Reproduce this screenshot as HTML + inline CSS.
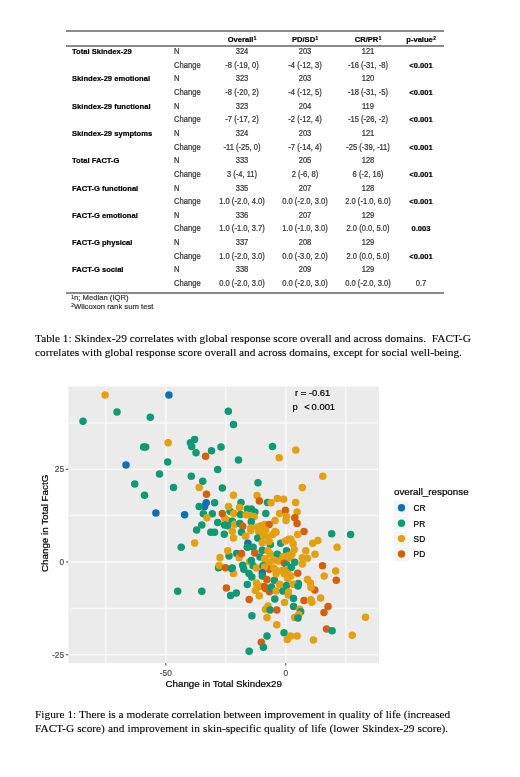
<!DOCTYPE html>
<html><head><meta charset="utf-8">
<style>
html,body{margin:0;padding:0;background:#fff;width:520px;height:777px;overflow:hidden;position:relative}
body{filter:blur(0.3px)}
.s{font-family:"Liberation Sans",sans-serif}
.t{font-family:"Liberation Serif",serif}
.a{position:absolute;white-space:pre;line-height:1}
#tb .r{position:absolute;left:0;width:520px;height:14px;font:7.6px/14px "Liberation Sans",sans-serif;color:#333;transform:translateY(1.0px);--sy:1.1}
#tb .r span{position:absolute;top:0;white-space:pre;-webkit-text-stroke:0.2px currentColor;transform-origin:0 9.6px;transform:scaleY(var(--sy))}
#tb .l{left:72px;font-weight:bold;color:#000;--sy:1.0;transform:translateY(-0.4px) !important}
#tb .n{left:174px}
#tb .c1{left:242px;transform:translateX(-50%) scaleY(var(--sy)) !important}
#tb .c2{left:305px;transform:translateX(-50%) scaleY(var(--sy)) !important}
#tb .c3{left:368px;transform:translateX(-50%) scaleY(var(--sy)) !important}
#tb .c4{left:421px;transform:translateX(-50%) scaleY(var(--sy)) !important}
#tb .b{font-weight:bold;color:#000;--sy:1.05}
sup{font-size:62%;vertical-align:top;position:relative;top:-0.6px;margin-left:0.3px}
.hl{position:absolute;left:66px;width:378px;height:2px;background:#8a8a8a}
.cap{position:absolute;left:35px;font:11.35px/13.5px "Liberation Serif",serif;color:#000;white-space:pre;-webkit-text-stroke:0.1px #000}
</style></head><body>
<div class="hl" style="top:30px"></div>
<div class="hl" style="top:45px"></div>
<div class="hl" style="top:292px"></div>
<div id="tb">
<div class="r" style="top:32.4px"><span class="c1 b">Overall<sup>1</sup></span><span class="c2 b">PD/SD<sup>1</sup></span><span class="c3 b">CR/PR<sup>1</sup></span><span class="c4 b">p-value<sup>2</sup></span></div>
<div class="r" style="top:44px"><span class="l">Total Skindex-29</span><span class="n">N</span><span class="c1">324</span><span class="c2">203</span><span class="c3">121</span></div>
<div class="r" style="top:57.65px"><span class="n">Change</span><span class="c1">-8 (-19, 0)</span><span class="c2">-4 (-12, 3)</span><span class="c3">-16 (-31, -8)</span><span class="c4 b">&lt;0.001</span></div>
<div class="r" style="top:71.3px"><span class="l">Skindex-29 emotional</span><span class="n">N</span><span class="c1">323</span><span class="c2">203</span><span class="c3">120</span></div>
<div class="r" style="top:84.95px"><span class="n">Change</span><span class="c1">-8 (-20, 2)</span><span class="c2">-4 (-12, 5)</span><span class="c3">-18 (-31, -5)</span><span class="c4 b">&lt;0.001</span></div>
<div class="r" style="top:98.6px"><span class="l">Skindex-29 functional</span><span class="n">N</span><span class="c1">323</span><span class="c2">204</span><span class="c3">119</span></div>
<div class="r" style="top:112.25px"><span class="n">Change</span><span class="c1">-7 (-17, 2)</span><span class="c2">-2 (-12, 4)</span><span class="c3">-15 (-26, -2)</span><span class="c4 b">&lt;0.001</span></div>
<div class="r" style="top:125.9px"><span class="l">Skindex-29 symptoms</span><span class="n">N</span><span class="c1">324</span><span class="c2">203</span><span class="c3">121</span></div>
<div class="r" style="top:139.55px"><span class="n">Change</span><span class="c1">-11 (-25, 0)</span><span class="c2">-7 (-14, 4)</span><span class="c3">-25 (-39, -11)</span><span class="c4 b">&lt;0.001</span></div>
<div class="r" style="top:153.2px"><span class="l">Total FACT-G</span><span class="n">N</span><span class="c1">333</span><span class="c2">205</span><span class="c3">128</span></div>
<div class="r" style="top:166.85px"><span class="n">Change</span><span class="c1">3 (-4, 11)</span><span class="c2">2 (-6, 8)</span><span class="c3">6 (-2, 16)</span><span class="c4 b">&lt;0.001</span></div>
<div class="r" style="top:180.5px"><span class="l">FACT-G functional</span><span class="n">N</span><span class="c1">335</span><span class="c2">207</span><span class="c3">128</span></div>
<div class="r" style="top:194.15px"><span class="n">Change</span><span class="c1">1.0 (-2.0, 4.0)</span><span class="c2">0.0 (-2.0, 3.0)</span><span class="c3">2.0 (-1.0, 6.0)</span><span class="c4 b">&lt;0.001</span></div>
<div class="r" style="top:207.8px"><span class="l">FACT-G emotional</span><span class="n">N</span><span class="c1">336</span><span class="c2">207</span><span class="c3">129</span></div>
<div class="r" style="top:221.45px"><span class="n">Change</span><span class="c1">1.0 (-1.0, 3.7)</span><span class="c2">1.0 (-1.0, 3.0)</span><span class="c3">2.0 (0.0, 5.0)</span><span class="c4 b">0.003</span></div>
<div class="r" style="top:235.1px"><span class="l">FACT-G physical</span><span class="n">N</span><span class="c1">337</span><span class="c2">208</span><span class="c3">129</span></div>
<div class="r" style="top:248.75px"><span class="n">Change</span><span class="c1">1.0 (-2.0, 3.0)</span><span class="c2">0.0 (-3.0, 2.0)</span><span class="c3">2.0 (0.0, 5.0)</span><span class="c4 b">&lt;0.001</span></div>
<div class="r" style="top:262.4px"><span class="l">FACT-G social</span><span class="n">N</span><span class="c1">338</span><span class="c2">209</span><span class="c3">129</span></div>
<div class="r" style="top:276.05px"><span class="n">Change</span><span class="c1">0.0 (-2.0, 3.0)</span><span class="c2">0.0 (-2.0, 3.0)</span><span class="c3">0.0 (-2.0, 3.0)</span><span class="c4">0.7</span></div>
<div class="r" style="top:291.2px;font-size:7.7px;transform:none;--sy:1.0"><span style="left:71px"><sup>1</sup>n; Median (IQR)</span></div>
<div class="r" style="top:300px;font-size:7.7px;transform:none;--sy:1.0"><span style="left:71px"><sup>2</sup>Wilcoxon rank sum test</span></div>
</div>
<div class="cap" style="top:332px">Table 1: Skindex-29 correlates with global response score overall and across domains.  FACT-G</div>
<div class="cap" style="top:345.5px;word-spacing:-0.12px">correlates with global response score overall and across domains, except for social well-being.</div>

<svg width="520" height="777" style="position:absolute;left:0;top:0">
<rect x="68.3" y="386.5" width="310.70" height="276.70" fill="#EBEBEB"/>
<line x1="105.80" y1="386.5" x2="105.80" y2="663.2" stroke="#F7F7F7" stroke-width="1.5"/>
<line x1="225.80" y1="386.5" x2="225.80" y2="663.2" stroke="#F7F7F7" stroke-width="1.5"/>
<line x1="345.80" y1="386.5" x2="345.80" y2="663.2" stroke="#F7F7F7" stroke-width="1.5"/>
<line x1="68.3" y1="608.38" x2="379.0" y2="608.38" stroke="#F7F7F7" stroke-width="1.5"/>
<line x1="68.3" y1="515.62" x2="379.0" y2="515.62" stroke="#F7F7F7" stroke-width="1.5"/>
<line x1="68.3" y1="422.88" x2="379.0" y2="422.88" stroke="#F7F7F7" stroke-width="1.5"/>
<line x1="165.80" y1="386.5" x2="165.80" y2="663.2" stroke="#F8F8F8" stroke-width="1.6"/>
<line x1="285.80" y1="386.5" x2="285.80" y2="663.2" stroke="#F8F8F8" stroke-width="1.6"/>
<line x1="68.3" y1="654.75" x2="379.0" y2="654.75" stroke="#F8F8F8" stroke-width="1.6"/>
<line x1="68.3" y1="562.00" x2="379.0" y2="562.00" stroke="#F8F8F8" stroke-width="1.6"/>
<line x1="68.3" y1="469.25" x2="379.0" y2="469.25" stroke="#F8F8F8" stroke-width="1.6"/>
<line x1="165.80" y1="663.2" x2="165.80" y2="665.6" stroke="#333" stroke-width="0.9"/>
<line x1="285.80" y1="663.2" x2="285.80" y2="665.6" stroke="#333" stroke-width="0.9"/>
<line x1="65.89999999999999" y1="654.75" x2="68.3" y2="654.75" stroke="#333" stroke-width="0.9"/>
<line x1="65.89999999999999" y1="562.00" x2="68.3" y2="562.00" stroke="#333" stroke-width="0.9"/>
<line x1="65.89999999999999" y1="469.25" x2="68.3" y2="469.25" stroke="#333" stroke-width="0.9"/>
<circle cx="105.1" cy="395.0" r="3.75" fill="#E3A010"/>
<circle cx="168.9" cy="395.0" r="3.75" fill="#0F6FAF"/>
<circle cx="117.0" cy="411.9" r="3.75" fill="#0E9A72"/>
<circle cx="150.3" cy="417.3" r="3.75" fill="#0E9A72"/>
<circle cx="83.0" cy="421.2" r="3.75" fill="#0E9A72"/>
<circle cx="143.6" cy="447.0" r="3.75" fill="#0E9A72"/>
<circle cx="145.7" cy="447.0" r="3.75" fill="#0E9A72"/>
<circle cx="126.0" cy="465.0" r="3.75" fill="#0F6FAF"/>
<circle cx="228.3" cy="411.3" r="3.75" fill="#0E9A72"/>
<circle cx="233.5" cy="424.4" r="3.75" fill="#0E9A72"/>
<circle cx="168.1" cy="442.7" r="3.75" fill="#E3A010"/>
<circle cx="194.6" cy="439.4" r="3.75" fill="#0E9A72"/>
<circle cx="190.4" cy="442.7" r="3.75" fill="#0E9A72"/>
<circle cx="191.7" cy="446.5" r="3.75" fill="#0E9A72"/>
<circle cx="196.0" cy="452.7" r="3.75" fill="#0E9A72"/>
<circle cx="211.5" cy="450.8" r="3.75" fill="#0E9A72"/>
<circle cx="221.0" cy="446.9" r="3.75" fill="#0E9A72"/>
<circle cx="205.6" cy="456.2" r="3.75" fill="#D3600E"/>
<circle cx="238.5" cy="460.0" r="3.75" fill="#0E9A72"/>
<circle cx="167.7" cy="461.9" r="3.75" fill="#0E9A72"/>
<circle cx="217.7" cy="469.6" r="3.75" fill="#0E9A72"/>
<circle cx="159.5" cy="474.0" r="3.75" fill="#0E9A72"/>
<circle cx="191.3" cy="476.3" r="3.75" fill="#0E9A72"/>
<circle cx="202.7" cy="481.2" r="3.75" fill="#0E9A72"/>
<circle cx="258.0" cy="482.7" r="3.75" fill="#0E9A72"/>
<circle cx="272.5" cy="446.5" r="3.75" fill="#0E9A72"/>
<circle cx="279.2" cy="457.7" r="3.75" fill="#E3A010"/>
<circle cx="295.8" cy="450.0" r="3.75" fill="#E3A010"/>
<circle cx="322.8" cy="476.3" r="3.75" fill="#E3A010"/>
<circle cx="302.3" cy="487.4" r="3.75" fill="#E3A010"/>
<circle cx="134.7" cy="484.0" r="3.75" fill="#0E9A72"/>
<circle cx="144.5" cy="495.2" r="3.75" fill="#0E9A72"/>
<circle cx="155.9" cy="513.1" r="3.75" fill="#0F6FAF"/>
<circle cx="173.5" cy="487.6" r="3.75" fill="#0E9A72"/>
<circle cx="199.2" cy="487.6" r="3.75" fill="#E3A010"/>
<circle cx="222.3" cy="488.0" r="3.75" fill="#0E9A72"/>
<circle cx="206.5" cy="494.2" r="3.75" fill="#D3600E"/>
<circle cx="233.5" cy="495.3" r="3.75" fill="#E3A010"/>
<circle cx="214.6" cy="502.7" r="3.75" fill="#0E9A72"/>
<circle cx="206.2" cy="502.7" r="3.75" fill="#0F6FAF"/>
<circle cx="204.6" cy="506.5" r="3.75" fill="#0F6FAF"/>
<circle cx="199.2" cy="506.5" r="3.75" fill="#0E9A72"/>
<circle cx="230.0" cy="511.2" r="3.75" fill="#0E9A72"/>
<circle cx="228.5" cy="506.5" r="3.75" fill="#E3A010"/>
<circle cx="184.6" cy="514.7" r="3.75" fill="#0F6FAF"/>
<circle cx="203.4" cy="513.8" r="3.75" fill="#0E9A72"/>
<circle cx="212.3" cy="513.8" r="3.75" fill="#0E9A72"/>
<circle cx="207.0" cy="517.8" r="3.75" fill="#E3A010"/>
<circle cx="233.8" cy="513.5" r="3.75" fill="#E3A010"/>
<circle cx="224.6" cy="518.0" r="3.75" fill="#E3A010"/>
<circle cx="222.3" cy="513.5" r="3.75" fill="#D3600E"/>
<circle cx="227.7" cy="520.4" r="3.75" fill="#E3A010"/>
<circle cx="217.7" cy="522.4" r="3.75" fill="#0E9A72"/>
<circle cx="232.3" cy="521.2" r="3.75" fill="#0E9A72"/>
<circle cx="224.6" cy="525.0" r="3.75" fill="#0E9A72"/>
<circle cx="227.7" cy="525.8" r="3.75" fill="#0E9A72"/>
<circle cx="234.6" cy="524.2" r="3.75" fill="#E3A010"/>
<circle cx="201.8" cy="525.0" r="3.75" fill="#0E9A72"/>
<circle cx="196.6" cy="530.0" r="3.75" fill="#0E9A72"/>
<circle cx="210.8" cy="532.2" r="3.75" fill="#0E9A72"/>
<circle cx="214.6" cy="532.2" r="3.75" fill="#0E9A72"/>
<circle cx="232.3" cy="531.2" r="3.75" fill="#E3A010"/>
<circle cx="224.3" cy="534.2" r="3.75" fill="#0E9A72"/>
<circle cx="233.5" cy="538.0" r="3.75" fill="#E3A010"/>
<circle cx="194.6" cy="543.0" r="3.75" fill="#E3A010"/>
<circle cx="181.2" cy="547.3" r="3.75" fill="#0E9A72"/>
<circle cx="229.0" cy="556.0" r="3.75" fill="#0E9A72"/>
<circle cx="227.7" cy="550.7" r="3.75" fill="#E3A010"/>
<circle cx="257.1" cy="495.5" r="3.75" fill="#E3A010"/>
<circle cx="259.4" cy="501.0" r="3.75" fill="#D3600E"/>
<circle cx="267.5" cy="502.5" r="3.75" fill="#0E9A72"/>
<circle cx="271.0" cy="502.7" r="3.75" fill="#E3A010"/>
<circle cx="277.3" cy="498.6" r="3.75" fill="#E3A010"/>
<circle cx="283.6" cy="499.2" r="3.75" fill="#E3A010"/>
<circle cx="241.0" cy="502.5" r="3.75" fill="#0E9A72"/>
<circle cx="239.5" cy="507.6" r="3.75" fill="#E3A010"/>
<circle cx="240.5" cy="514.4" r="3.75" fill="#0E9A72"/>
<circle cx="247.3" cy="509.0" r="3.75" fill="#0E9A72"/>
<circle cx="251.3" cy="509.0" r="3.75" fill="#0E9A72"/>
<circle cx="254.8" cy="511.9" r="3.75" fill="#0E9A72"/>
<circle cx="246.1" cy="514.8" r="3.75" fill="#E3A010"/>
<circle cx="250.8" cy="516.0" r="3.75" fill="#E3A010"/>
<circle cx="254.2" cy="516.5" r="3.75" fill="#E3A010"/>
<circle cx="265.8" cy="513.6" r="3.75" fill="#0E9A72"/>
<circle cx="279.6" cy="513.6" r="3.75" fill="#E3A010"/>
<circle cx="285.4" cy="510.2" r="3.75" fill="#D3600E"/>
<circle cx="286.5" cy="516.5" r="3.75" fill="#E3A010"/>
<circle cx="275.0" cy="520.6" r="3.75" fill="#E3A010"/>
<circle cx="286.0" cy="520.6" r="3.75" fill="#E3A010"/>
<circle cx="239.8" cy="523.4" r="3.75" fill="#0E9A72"/>
<circle cx="242.7" cy="526.3" r="3.75" fill="#D3600E"/>
<circle cx="251.3" cy="521.7" r="3.75" fill="#0E9A72"/>
<circle cx="250.8" cy="528.0" r="3.75" fill="#E3A010"/>
<circle cx="257.7" cy="526.9" r="3.75" fill="#E3A010"/>
<circle cx="261.1" cy="525.7" r="3.75" fill="#E3A010"/>
<circle cx="264.6" cy="524.6" r="3.75" fill="#E3A010"/>
<circle cx="269.2" cy="524.6" r="3.75" fill="#D3600E"/>
<circle cx="241.5" cy="532.3" r="3.75" fill="#0E9A72"/>
<circle cx="275.0" cy="531.5" r="3.75" fill="#E3A010"/>
<circle cx="260.0" cy="532.7" r="3.75" fill="#E3A010"/>
<circle cx="265.5" cy="530.0" r="3.75" fill="#E3A010"/>
<circle cx="262.0" cy="529.0" r="3.75" fill="#E3A010"/>
<circle cx="295.6" cy="502.5" r="3.75" fill="#E3A010"/>
<circle cx="297.1" cy="511.9" r="3.75" fill="#E3A010"/>
<circle cx="294.8" cy="517.7" r="3.75" fill="#D3600E"/>
<circle cx="297.1" cy="523.4" r="3.75" fill="#D3600E"/>
<circle cx="304.0" cy="531.5" r="3.75" fill="#D3600E"/>
<circle cx="297.7" cy="534.4" r="3.75" fill="#E3A010"/>
<circle cx="331.7" cy="533.8" r="3.75" fill="#0E9A72"/>
<circle cx="350.6" cy="534.6" r="3.75" fill="#0E9A72"/>
<circle cx="337.1" cy="547.3" r="3.75" fill="#E3A010"/>
<circle cx="317.9" cy="540.4" r="3.75" fill="#E3A010"/>
<circle cx="245.6" cy="536.3" r="3.75" fill="#E3A010"/>
<circle cx="250.8" cy="530.6" r="3.75" fill="#E3A010"/>
<circle cx="258.8" cy="531.7" r="3.75" fill="#E3A010"/>
<circle cx="257.7" cy="538.0" r="3.75" fill="#0E9A72"/>
<circle cx="263.4" cy="535.8" r="3.75" fill="#E3A010"/>
<circle cx="268.0" cy="536.9" r="3.75" fill="#E3A010"/>
<circle cx="272.7" cy="534.6" r="3.75" fill="#E3A010"/>
<circle cx="276.1" cy="532.3" r="3.75" fill="#E3A010"/>
<circle cx="262.3" cy="542.7" r="3.75" fill="#E3A010"/>
<circle cx="270.4" cy="544.4" r="3.75" fill="#0E9A72"/>
<circle cx="269.2" cy="541.5" r="3.75" fill="#E3A010"/>
<circle cx="280.7" cy="543.3" r="3.75" fill="#0E9A72"/>
<circle cx="247.9" cy="543.3" r="3.75" fill="#0F6FAF"/>
<circle cx="247.3" cy="547.3" r="3.75" fill="#0E9A72"/>
<circle cx="253.1" cy="547.3" r="3.75" fill="#0E9A72"/>
<circle cx="285.4" cy="541.0" r="3.75" fill="#E3A010"/>
<circle cx="288.8" cy="539.2" r="3.75" fill="#E3A010"/>
<circle cx="286.5" cy="550.8" r="3.75" fill="#0E9A72"/>
<circle cx="254.8" cy="553.1" r="3.75" fill="#D3600E"/>
<circle cx="262.3" cy="550.2" r="3.75" fill="#0E9A72"/>
<circle cx="268.0" cy="550.8" r="3.75" fill="#E3A010"/>
<circle cx="270.4" cy="554.2" r="3.75" fill="#E3A010"/>
<circle cx="277.3" cy="554.2" r="3.75" fill="#0E9A72"/>
<circle cx="283.1" cy="556.5" r="3.75" fill="#E3A010"/>
<circle cx="288.8" cy="555.4" r="3.75" fill="#E3A010"/>
<circle cx="236.6" cy="553.5" r="3.75" fill="#0E9A72"/>
<circle cx="239.2" cy="557.7" r="3.75" fill="#E3A010"/>
<circle cx="241.5" cy="553.6" r="3.75" fill="#D3600E"/>
<circle cx="260.0" cy="557.1" r="3.75" fill="#0E9A72"/>
<circle cx="264.6" cy="558.8" r="3.75" fill="#E3A010"/>
<circle cx="265.8" cy="563.4" r="3.75" fill="#E3A010"/>
<circle cx="269.2" cy="562.3" r="3.75" fill="#E3A010"/>
<circle cx="273.8" cy="560.0" r="3.75" fill="#E3A010"/>
<circle cx="278.4" cy="561.1" r="3.75" fill="#E3A010"/>
<circle cx="249.6" cy="561.7" r="3.75" fill="#E3A010"/>
<circle cx="251.3" cy="560.6" r="3.75" fill="#0E9A72"/>
<circle cx="232.3" cy="568.1" r="3.75" fill="#0E9A72"/>
<circle cx="242.7" cy="565.2" r="3.75" fill="#0E9A72"/>
<circle cx="243.8" cy="569.2" r="3.75" fill="#0E9A72"/>
<circle cx="253.1" cy="565.8" r="3.75" fill="#0E9A72"/>
<circle cx="256.5" cy="568.1" r="3.75" fill="#E3A010"/>
<circle cx="262.9" cy="565.8" r="3.75" fill="#0E9A72"/>
<circle cx="269.2" cy="569.2" r="3.75" fill="#D3600E"/>
<circle cx="264.6" cy="566.9" r="3.75" fill="#E3A010"/>
<circle cx="273.8" cy="568.1" r="3.75" fill="#E3A010"/>
<circle cx="276.1" cy="570.4" r="3.75" fill="#E3A010"/>
<circle cx="284.2" cy="562.9" r="3.75" fill="#D3600E"/>
<circle cx="286.5" cy="564.6" r="3.75" fill="#0E9A72"/>
<circle cx="281.9" cy="570.4" r="3.75" fill="#E3A010"/>
<circle cx="287.7" cy="569.2" r="3.75" fill="#E3A010"/>
<circle cx="233.5" cy="573.5" r="3.75" fill="#E3A010"/>
<circle cx="249.0" cy="573.6" r="3.75" fill="#0E9A72"/>
<circle cx="251.8" cy="577.0" r="3.75" fill="#0E9A72"/>
<circle cx="262.3" cy="572.7" r="3.75" fill="#0F6FAF"/>
<circle cx="262.3" cy="576.1" r="3.75" fill="#0E9A72"/>
<circle cx="266.9" cy="579.6" r="3.75" fill="#D3600E"/>
<circle cx="274.4" cy="580.2" r="3.75" fill="#0E9A72"/>
<circle cx="276.1" cy="573.8" r="3.75" fill="#E3A010"/>
<circle cx="284.2" cy="573.8" r="3.75" fill="#E3A010"/>
<circle cx="287.7" cy="578.4" r="3.75" fill="#E3A010"/>
<circle cx="247.3" cy="584.5" r="3.75" fill="#0E9A72"/>
<circle cx="256.5" cy="583.1" r="3.75" fill="#E3A010"/>
<circle cx="260.0" cy="586.5" r="3.75" fill="#E3A010"/>
<circle cx="264.6" cy="586.5" r="3.75" fill="#D3600E"/>
<circle cx="271.5" cy="587.1" r="3.75" fill="#0E9A72"/>
<circle cx="279.6" cy="584.2" r="3.75" fill="#E3A010"/>
<circle cx="286.5" cy="585.6" r="3.75" fill="#0E9A72"/>
<circle cx="290.8" cy="539.2" r="3.75" fill="#E3A010"/>
<circle cx="293.1" cy="543.8" r="3.75" fill="#E3A010"/>
<circle cx="312.7" cy="543.3" r="3.75" fill="#E3A010"/>
<circle cx="294.2" cy="549.6" r="3.75" fill="#E3A010"/>
<circle cx="305.8" cy="550.8" r="3.75" fill="#E3A010"/>
<circle cx="315.0" cy="554.2" r="3.75" fill="#E3A010"/>
<circle cx="291.9" cy="554.2" r="3.75" fill="#E3A010"/>
<circle cx="289.6" cy="557.7" r="3.75" fill="#E3A010"/>
<circle cx="302.3" cy="557.7" r="3.75" fill="#E3A010"/>
<circle cx="307.5" cy="558.3" r="3.75" fill="#E3A010"/>
<circle cx="294.8" cy="562.3" r="3.75" fill="#0E9A72"/>
<circle cx="302.3" cy="564.0" r="3.75" fill="#E3A010"/>
<circle cx="291.3" cy="567.5" r="3.75" fill="#0E9A72"/>
<circle cx="322.5" cy="565.8" r="3.75" fill="#D3600E"/>
<circle cx="335.7" cy="570.9" r="3.75" fill="#E3A010"/>
<circle cx="297.7" cy="573.3" r="3.75" fill="#D3600E"/>
<circle cx="286.7" cy="572.7" r="3.75" fill="#E3A010"/>
<circle cx="290.8" cy="576.1" r="3.75" fill="#E3A010"/>
<circle cx="324.2" cy="576.1" r="3.75" fill="#E3A010"/>
<circle cx="336.3" cy="580.2" r="3.75" fill="#D3600E"/>
<circle cx="307.5" cy="579.6" r="3.75" fill="#E3A010"/>
<circle cx="310.4" cy="583.1" r="3.75" fill="#E3A010"/>
<circle cx="298.3" cy="583.6" r="3.75" fill="#0E9A72"/>
<circle cx="293.1" cy="584.2" r="3.75" fill="#E3A010"/>
<circle cx="314.8" cy="590.0" r="3.75" fill="#D3600E"/>
<circle cx="320.6" cy="598.0" r="3.75" fill="#E3A010"/>
<circle cx="328.1" cy="606.4" r="3.75" fill="#D3600E"/>
<circle cx="324.0" cy="612.5" r="3.75" fill="#D3600E"/>
<circle cx="365.5" cy="617.3" r="3.75" fill="#E3A010"/>
<circle cx="220.0" cy="557.5" r="3.75" fill="#E3A010"/>
<circle cx="218.5" cy="567.7" r="3.75" fill="#0E9A72"/>
<circle cx="219.2" cy="565.4" r="3.75" fill="#E3A010"/>
<circle cx="225.4" cy="567.7" r="3.75" fill="#D3600E"/>
<circle cx="231.5" cy="568.5" r="3.75" fill="#0E9A72"/>
<circle cx="177.7" cy="591.2" r="3.75" fill="#0E9A72"/>
<circle cx="201.8" cy="591.2" r="3.75" fill="#0E9A72"/>
<circle cx="226.4" cy="588.0" r="3.75" fill="#D3600E"/>
<circle cx="230.6" cy="595.6" r="3.75" fill="#0E9A72"/>
<circle cx="236.3" cy="593.1" r="3.75" fill="#0E9A72"/>
<circle cx="257.3" cy="587.0" r="3.75" fill="#E3A010"/>
<circle cx="255.3" cy="590.4" r="3.75" fill="#E3A010"/>
<circle cx="259.3" cy="595.8" r="3.75" fill="#E3A010"/>
<circle cx="265.4" cy="588.4" r="3.75" fill="#D3600E"/>
<circle cx="269.4" cy="591.7" r="3.75" fill="#D3600E"/>
<circle cx="271.4" cy="588.4" r="3.75" fill="#0E9A72"/>
<circle cx="276.1" cy="591.1" r="3.75" fill="#E3A010"/>
<circle cx="282.9" cy="591.1" r="3.75" fill="#0E9A72"/>
<circle cx="288.3" cy="595.1" r="3.75" fill="#E3A010"/>
<circle cx="293.5" cy="598.5" r="3.75" fill="#0E9A72"/>
<circle cx="249.2" cy="599.5" r="3.75" fill="#D3600E"/>
<circle cx="274.8" cy="599.1" r="3.75" fill="#0E9A72"/>
<circle cx="284.5" cy="602.4" r="3.75" fill="#E3A010"/>
<circle cx="293.6" cy="606.5" r="3.75" fill="#0E9A72"/>
<circle cx="268.1" cy="605.9" r="3.75" fill="#E3A010"/>
<circle cx="265.4" cy="609.2" r="3.75" fill="#E3A010"/>
<circle cx="270.1" cy="609.9" r="3.75" fill="#0E9A72"/>
<circle cx="276.8" cy="609.9" r="3.75" fill="#D3600E"/>
<circle cx="251.9" cy="615.7" r="3.75" fill="#0E9A72"/>
<circle cx="267.0" cy="617.6" r="3.75" fill="#E3A010"/>
<circle cx="294.5" cy="617.5" r="3.75" fill="#E3A010"/>
<circle cx="276.8" cy="624.7" r="3.75" fill="#E3A010"/>
<circle cx="284.0" cy="632.7" r="3.75" fill="#0E9A72"/>
<circle cx="287.3" cy="639.5" r="3.75" fill="#E3A010"/>
<circle cx="290.5" cy="636.1" r="3.75" fill="#E3A010"/>
<circle cx="267.0" cy="636.1" r="3.75" fill="#0E9A72"/>
<circle cx="261.3" cy="642.2" r="3.75" fill="#D3600E"/>
<circle cx="263.4" cy="647.2" r="3.75" fill="#0E9A72"/>
<circle cx="249.2" cy="651.2" r="3.75" fill="#0E9A72"/>
<circle cx="298.0" cy="585.9" r="3.75" fill="#0E9A72"/>
<circle cx="288.5" cy="591.9" r="3.75" fill="#E3A010"/>
<circle cx="311.0" cy="587.6" r="3.75" fill="#E3A010"/>
<circle cx="304.0" cy="600.6" r="3.75" fill="#D3600E"/>
<circle cx="311.0" cy="599.7" r="3.75" fill="#E3A010"/>
<circle cx="311.8" cy="602.3" r="3.75" fill="#E3A010"/>
<circle cx="299.7" cy="609.2" r="3.75" fill="#E3A010"/>
<circle cx="300.6" cy="611.8" r="3.75" fill="#0E9A72"/>
<circle cx="298.8" cy="614.4" r="3.75" fill="#E3A010"/>
<circle cx="298.0" cy="617.9" r="3.75" fill="#0E9A72"/>
<circle cx="326.5" cy="629.1" r="3.75" fill="#D3600E"/>
<circle cx="332.1" cy="630.8" r="3.75" fill="#0E9A72"/>
<circle cx="297.1" cy="636.0" r="3.75" fill="#E3A010"/>
<circle cx="313.5" cy="640.0" r="3.75" fill="#E3A010"/>
<circle cx="352.2" cy="635.2" r="3.75" fill="#E3A010"/>
<text x="165.80" y="675.6" font-family="Liberation Sans" font-size="8.3" fill="#4D4D4D" stroke="#4D4D4D" stroke-width="0.2" text-anchor="middle">-50</text>
<text x="285.80" y="675.6" font-family="Liberation Sans" font-size="8.3" fill="#4D4D4D" stroke="#4D4D4D" stroke-width="0.2" text-anchor="middle">0</text>
<text x="64.0" y="657.55" font-family="Liberation Sans" font-size="8.3" fill="#4D4D4D" stroke="#4D4D4D" stroke-width="0.2" text-anchor="end">-25</text>
<text x="64.0" y="564.80" font-family="Liberation Sans" font-size="8.3" fill="#4D4D4D" stroke="#4D4D4D" stroke-width="0.2" text-anchor="end">0</text>
<text x="64.0" y="472.05" font-family="Liberation Sans" font-size="8.3" fill="#4D4D4D" stroke="#4D4D4D" stroke-width="0.2" text-anchor="end">25</text>
<text x="223.65" y="686.6" font-family="Liberation Sans" font-size="9.8" fill="#000" stroke="#000" stroke-width="0.22" text-anchor="middle">Change in Total Skindex29</text>
<text transform="translate(47.8,523.35) rotate(-90)" x="0" y="0" font-family="Liberation Sans" font-size="9.8" fill="#000" stroke="#000" stroke-width="0.22" text-anchor="middle">Change in Total FactG</text>
<text x="295.1" y="395.7" font-family="Liberation Sans" font-size="9.4" fill="#000" stroke="#000" stroke-width="0.22">r = -0.61</text>
<text x="292.6" y="409.8" font-family="Liberation Sans" font-size="9.4" fill="#000" stroke="#000" stroke-width="0.22">p</text>
<text x="304.3" y="409.8" font-family="Liberation Sans" font-size="9.4" fill="#000" stroke="#000" stroke-width="0.22">&lt;</text>
<text x="311.6" y="409.8" font-family="Liberation Sans" font-size="9.4" fill="#000" stroke="#000" stroke-width="0.22">0.001</text>
<text x="394" y="495.1" font-family="Liberation Sans" font-size="9.8" fill="#000" stroke="#000" stroke-width="0.22">overall_response</text>
<rect x="393.6" y="500.10" width="15.4" height="15.4" fill="#F5F5F5" stroke="#fff" stroke-width="0.6"/>
<circle cx="401.5" cy="507.8" r="3.7" fill="#0F6FAF"/>
<text x="413.6" y="511.20" font-family="Liberation Sans" font-size="8.3" fill="#000" stroke="#000" stroke-width="0.22">CR</text>
<rect x="393.6" y="515.50" width="15.4" height="15.4" fill="#F5F5F5" stroke="#fff" stroke-width="0.6"/>
<circle cx="401.5" cy="523.2" r="3.7" fill="#0E9A72"/>
<text x="413.6" y="526.60" font-family="Liberation Sans" font-size="8.3" fill="#000" stroke="#000" stroke-width="0.22">PR</text>
<rect x="393.6" y="530.90" width="15.4" height="15.4" fill="#F5F5F5" stroke="#fff" stroke-width="0.6"/>
<circle cx="401.5" cy="538.6" r="3.7" fill="#E3A010"/>
<text x="413.6" y="542.00" font-family="Liberation Sans" font-size="8.3" fill="#000" stroke="#000" stroke-width="0.22">SD</text>
<rect x="393.6" y="546.30" width="15.4" height="15.4" fill="#F5F5F5" stroke="#fff" stroke-width="0.6"/>
<circle cx="401.5" cy="554.0" r="3.7" fill="#D3600E"/>
<text x="413.6" y="557.40" font-family="Liberation Sans" font-size="8.3" fill="#000" stroke="#000" stroke-width="0.22">PD</text>
</svg>

<div class="cap" style="top:708px">Figure 1: There is a moderate correlation between improvement in quality of life (increased</div>
<div class="cap" style="top:721.5px;word-spacing:0.27px">FACT-G score) and improvement in skin-specific quality of life (lower Skindex-29 score).</div>
</body></html>
